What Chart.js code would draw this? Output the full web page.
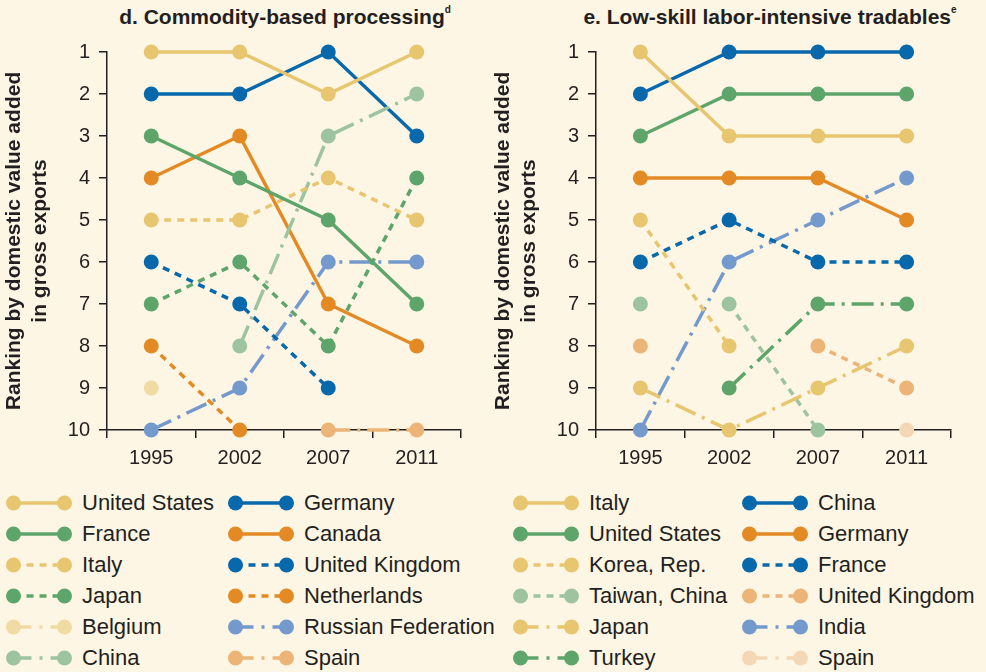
<!DOCTYPE html>
<html>
<head>
<meta charset="utf-8">
<script src="https://cdn.jsdelivr.net/npm/chart.js@4.4.1/dist/chart.umd.min.js"></script>
<style>
    html, body { margin: 0; padding: 0; background: #FDF6E4; }
    #wrap { position: relative; width: 986px; height: 672px; background: #FDF6E4; overflow: hidden;
            font-family: "Liberation Sans", Arial, sans-serif; color: #231F20; }
    .panel { position: absolute; top: 0; width: 493px; height: 480px; }
    .title { position: absolute; top: 5px; width: 600px; text-align: center; font-weight: bold; font-size: 21px; white-space: nowrap; }
    .title sup { font-size: 10px; vertical-align: top; position: relative; top: -1px; }
    .item { position: absolute; height: 31px; display: flex; align-items: center; font-size: 22px; white-space: nowrap; }
    .item svg { margin-right: 10px; flex: none; }
</style>
</head>
<body>
<div id="wrap">
    <div class="title" style="left:-15px">d. Commodity-based processing<sup>d</sup></div>
    <div class="title" style="left:470px">e. Low-skill labor-intensive tradables<sup>e</sup></div>
    <div class="panel" style="left:0"><canvas id="chartD" width="493" height="480"></canvas></div>
    <div class="panel" style="left:489px"><canvas id="chartE" width="493" height="480"></canvas></div>
    <div id="legendD"></div>
    <div id="legendE"></div>
</div>
<script>
// Kategoriler (yıllar)
const years = ['1995', '2002', '2007', '2011'];
const rankTicks = [1, 2, 3, 4, 5, 6, 7, 8, 9, 10];

// Panel d - Commodity-based processing
const dNames = ['United States', 'France', 'Italy', 'Japan', 'Belgium', 'China',
                'Germany', 'Canada', 'United Kingdom', 'Netherlands', 'Russian Federation', 'Spain'];
const dUnitedStates = [1, 1, 2, 1];
const dFrance = [3, 4, 5, 7];
const dItaly = [5, 5, 4, 5];
const dJapan = [7, 6, 8, 4];
const dBelgium = [9, null, null, null];
const dChina = [null, 8, 3, 2];
const dGermany = [2, 2, 1, 3];
const dCanada = [4, 3, 7, 8];
const dUnitedKingdom = [6, 7, 9, null];
const dNetherlands = [8, 10, null, null];
const dRussia = [10, 9, 6, 6];
const dSpain = [null, null, 10, 10];

// Panel e - Low-skill labor-intensive tradables
const eNames = ['Italy', 'United States', 'Korea, Rep.', 'Taiwan, China', 'Japan', 'Turkey',
                'China', 'Germany', 'France', 'United Kingdom', 'India', 'Spain'];
const eItaly = [1, 3, 3, 3];
const eUnitedStates = [3, 2, 2, 2];
const eKorea = [5, 8, null, null];
const eTaiwan = [7, 7, 10, null];
const eJapan = [9, 10, 9, 8];
const eTurkey = [null, 9, 7, 7];
const eChina = [2, 1, 1, 1];
const eGermany = [4, 4, 4, 5];
const eFrance = [6, 5, 6, 6];
const eUnitedKingdom = [8, null, 8, 9];
const eIndia = [10, 6, 5, 4];
const eSpain = [null, null, null, 10];

// Renkler ve çizgi tipleri
const C = {
    yellow: '#E8C56F', blue: '#0868AC', green: '#5EA56B', orange: '#E38A24',
    periwinkle: '#7399CD', lightGreen: '#9DC49F', lightOrange: '#EDB478',
    paleYellow: '#F1DBA5', paleOrange: '#F4D8B5'
};
const DASH = { solid: [], dashed: [7, 6], dashdot: [22, 7, 3, 7] };

const dValues = [dUnitedStates, dFrance, dItaly, dJapan, dBelgium, dChina,
                 dGermany, dCanada, dUnitedKingdom, dNetherlands, dRussia, dSpain];
const dStyles = [
    [C.yellow, 'solid'], [C.green, 'solid'], [C.yellow, 'dashed'], [C.green, 'dashed'],
    [C.paleYellow, 'dashdot'], [C.lightGreen, 'dashdot'],
    [C.blue, 'solid'], [C.orange, 'solid'], [C.blue, 'dashed'], [C.orange, 'dashed'],
    [C.periwinkle, 'dashdot'], [C.lightOrange, 'dashdot']
];

const eValues = [eItaly, eUnitedStates, eKorea, eTaiwan, eJapan, eTurkey,
                 eChina, eGermany, eFrance, eUnitedKingdom, eIndia, eSpain];
const eStyles = [
    [C.yellow, 'solid'], [C.green, 'solid'], [C.yellow, 'dashed'], [C.lightGreen, 'dashed'],
    [C.yellow, 'dashdot'], [C.green, 'dashdot'],
    [C.blue, 'solid'], [C.orange, 'solid'], [C.blue, 'dashed'], [C.lightOrange, 'dashed'],
    [C.periwinkle, 'dashdot'], [C.paleOrange, 'dashdot']
];
// Taiwan: 1995 ile 2002 arasında çizgi yok
const eHiddenFirstSegment = ['Taiwan, China'];

const FONT = '"Liberation Sans", Arial, sans-serif';
const INK = '#231F20';

function buildDatasets(names, values, styles, hidden) {
    return names.map((name, i) => {
        const [color, dash] = styles[i];
        const ds = {
            label: name,
            data: values[i],
            borderColor: color,
            backgroundColor: color,
            borderWidth: 3.5,
            borderDash: DASH[dash],
            pointRadius: 7.5,
            pointHoverRadius: 7.5,
            pointBorderWidth: 0,
            pointBackgroundColor: color,
            spanGaps: false,
            clip: false,
        };
        if (hidden && hidden.includes(name)) {
            ds.segment = { borderColor: ctx => ctx.p0DataIndex === 0 ? 'rgba(0,0,0,0)' : undefined };
        }
        return ds;
    });
}

function makeChart(id, names, values, styles, hidden, padRight) {
    const ctx = document.getElementById(id).getContext('2d');
    return new Chart(ctx, {
        type: 'line',
        data: { labels: years, datasets: buildDatasets(names, values, styles, hidden) },
        options: {
            responsive: false,
            animation: false,
            events: [],
            layout: { padding: { top: 52, right: padRight, left: 0, bottom: 0 } },
            plugins: { legend: { display: false }, title: { display: false }, tooltip: { enabled: false } },
            scales: {
                x: {
                    type: 'category',
                    offset: true,
                    grid: { offset: true, drawOnChartArea: false, drawTicks: true, tickLength: 8, color: INK, lineWidth: 1.5 },
                    border: { display: true, color: INK, width: 1.5 },
                    ticks: { color: INK, font: { family: FONT, size: 20 }, padding: 8, maxRotation: 0 },
                    afterFit: s => { s.height = 50; },
                },
                y: {
                    type: 'linear',
                    min: 1,
                    max: 10,
                    reverse: true,
                    afterBuildTicks: s => { s.ticks = rankTicks.map(v => ({ value: v })); },
                    grid: { drawOnChartArea: false, drawTicks: true, tickLength: 8, color: INK, lineWidth: 1.5 },
                    border: { display: true, color: INK, width: 1.5 },
                    ticks: { color: INK, font: { family: FONT, size: 20 }, padding: 9 },
                    title: {
                        display: true,
                        text: ['Ranking by domestic value added', 'in gross exports'],
                        color: INK,
                        font: { family: FONT, size: 21, weight: 'bold', lineHeight: 26 / 21 },
                        padding: { top: 1, bottom: 0 },
                    },
                    afterFit: s => { s.width = 107; },
                },
            },
        },
    });
}

function legendMarker(color, dash) {
    const ns = 'http://www.w3.org/2000/svg';
    const svg = document.createElementNS(ns, 'svg');
    svg.setAttribute('width', 66);
    svg.setAttribute('height', 16);
    const line = document.createElementNS(ns, 'line');
    line.setAttribute('x1', 7.5); line.setAttribute('x2', 58.5);
    line.setAttribute('y1', 8); line.setAttribute('y2', 8);
    line.setAttribute('stroke', color);
    line.setAttribute('stroke-width', 3.5);
    if (dash === 'dashed') line.setAttribute('stroke-dasharray', '7 6');
    if (dash === 'dashdot') line.setAttribute('stroke-dasharray', '18 8 3 8');
    svg.appendChild(line);
    [7.5, 58.5].forEach(cx => {
        const c = document.createElementNS(ns, 'circle');
        c.setAttribute('cx', cx); c.setAttribute('cy', 8); c.setAttribute('r', 7.5);
        c.setAttribute('fill', color);
        svg.appendChild(c);
    });
    return svg;
}

function makeLegend(hostId, names, styles, colX) {
    const host = document.getElementById(hostId);
    names.forEach((name, i) => {
        const col = i < 6 ? 0 : 1;
        const row = i % 6;
        const item = document.createElement('div');
        item.className = 'item';
        item.style.left = colX[col] + 'px';
        item.style.top = (503 + row * 31 - 15.5) + 'px';
        item.appendChild(legendMarker(styles[i][0], styles[i][1]));
        const span = document.createElement('span');
        span.textContent = name;
        item.appendChild(span);
        host.appendChild(item);
    });
}

makeChart('chartD', dNames, dValues, dStyles, null, 32);
makeChart('chartE', eNames, eValues, eStyles, eHiddenFirstSegment, 31);
makeLegend('legendD', dNames, dStyles, [6, 228]);
makeLegend('legendE', eNames, eStyles, [513, 742]);
</script>
</body>
</html>
